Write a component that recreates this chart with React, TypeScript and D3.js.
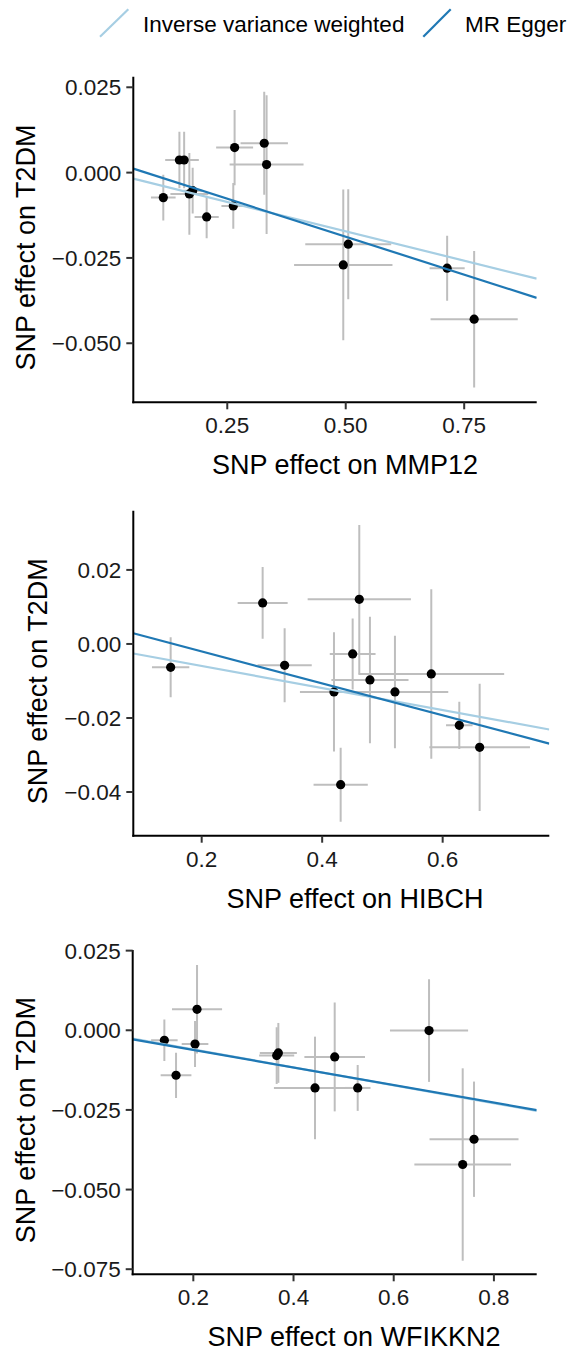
import React from "react";
import * as d3 from "d3";

// ---------- Data ----------
const legendLabels = ["Inverse variance weighted", "MR Egger"];
const legendColors = ["#a6cee3", "#1f78b4"];

// Panel 1: MMP12
const mmpX = [0.115, 0.149, 0.159, 0.170, 0.177, 0.2065, 0.2655, 0.2627, 0.328, 0.333, 0.5053, 0.4948, 0.714, 0.771];
const mmpY = [-0.00733, 0.0037, 0.0037, -0.00624, -0.0053, -0.013, 0.00733, -0.00976, 0.0086, 0.00234, -0.02098, -0.02704, -0.02801, -0.04295];
const mmpSeX = [0.026, 0.03, 0.031, 0.04, 0.02, 0.0255, 0.039, 0.025, 0.05, 0.078, 0.0907, 0.1038, 0.037, 0.092];
const mmpSeY = [0.0067, 0.0083, 0.0083, 0.012, 0.0067, 0.0062, 0.011, 0.0067, 0.0151, 0.0203, 0.0161, 0.0221, 0.0095, 0.02];
const mmpIVW = [0, -0.0344];
const mmpEgger = [0.00347, -0.0445];
const mmpXTicks = [0.25, 0.5, 0.75];
const mmpYTicks = [0.025, 0, -0.025, -0.05];

// Panel 2: HIBCH
const hibX = [0.1485, 0.3012, 0.3377, 0.4196, 0.4506, 0.4616, 0.4793, 0.5208, 0.5811, 0.6276, 0.6614, 0.4307];
const hibY = [-0.0063, 0.01108, -0.00577, -0.01297, -0.0027, 0.01207, -0.00973, -0.01297, -0.0081, -0.02198, -0.02793, -0.03802];
const hibSeX = [0.031, 0.0415, 0.045, 0.0565, 0.038, 0.0857, 0.064, 0.0885, 0.121, 0.022, 0.0835, 0.045];
const hibSeY = [0.0081, 0.0097, 0.01, 0.0161, 0.0096, 0.0201, 0.0171, 0.0152, 0.0229, 0.0064, 0.0172, 0.01];
const hibIVW = [0, -0.02975];
const hibEgger = [0.00663, -0.0432];
const hibXTicks = [0.2, 0.4, 0.6];
const hibYTicks = [0.02, 0, -0.02, -0.04];

// Panel 3: WFIKKN2
const wfiX = [0.1422, 0.1655, 0.2074, 0.2034, 0.3697, 0.3664, 0.4429, 0.4822, 0.6705, 0.5281, 0.7603, 0.7377];
const wfiY = [-0.00314, -0.01412, 0.00659, -0.0043, -0.0071, -0.00795, -0.0181, -0.00836, -0.0001, -0.0181, -0.0342, -0.04214];
const wfiSeX = [0.0265, 0.0307, 0.05, 0.0266, 0.037, 0.035, 0.082, 0.0605, 0.078, 0.0256, 0.0888, 0.0965];
const wfiSeY = [0.0065, 0.0071, 0.0139, 0.0072, 0.0094, 0.0089, 0.0161, 0.0171, 0.0161, 0.0072, 0.0181, 0.0302];
const wfiIVW = [-0.0004, -0.0281];
const wfiEgger = [-0.0007, -0.0275];
const wfiXTicks = [0.2, 0.4, 0.6, 0.8];
const wfiYTicks = [0.025, 0, -0.025, -0.05, -0.075];

const FONT = "'Liberation Sans', Arial, Helvetica, sans-serif";
const TICK_FS = 22.5;
const TITLE_FS = 27;
const LEGEND_FS = 22.5;

type PanelProps = {
  id: string;
  xs: number[];
  ys: number[];
  seX: number[];
  seY: number[];
  ivw: number[];
  egger: number[];
  xDomain: [number, number];
  yDomain: [number, number];
  xTicks: number[];
  yTicks: number[];
  xFmt: string;
  yFmt: string;
  left: number;
  right: number;
  top: number;
  bottom: number;
  xTitle: string;
  xTitleX: number;
  yTitleX: number;
};

function Panel(p: PanelProps) {
  const x = d3.scaleLinear().domain(p.xDomain).range([p.left, p.right]);
  const y = d3.scaleLinear().domain(p.yDomain).range([p.bottom, p.top]);
  const xf = d3.format(p.xFmt);
  const yf = d3.format(p.yFmt);
  const line = (coef: number[]) => {
    const pts: [number, number][] = p.xDomain.map((v) => [x(v), y(coef[0] + coef[1] * v)]);
    return d3.line()(pts) || "";
  };
  const grey = "#bebebe";
  return (
    <g>
      <defs>
        <clipPath id={p.id}>
          <rect x={p.left} y={p.top} width={p.right - p.left} height={p.bottom - p.top} />
        </clipPath>
      </defs>
      <g clipPath={`url(#${p.id})`}>
        {p.xs.map((v, i) => (
          <g key={i}>
            <line x1={x(v)} x2={x(v)} y1={y(p.ys[i] - p.seY[i])} y2={y(p.ys[i] + p.seY[i])} stroke={grey} strokeWidth={2} />
            <line x1={x(v - p.seX[i])} x2={x(v + p.seX[i])} y1={y(p.ys[i])} y2={y(p.ys[i])} stroke={grey} strokeWidth={2} />
          </g>
        ))}
        {p.xs.map((v, i) => (
          <circle key={i} cx={x(v)} cy={y(p.ys[i])} r={4.6} fill="#000" />
        ))}
        <path d={line(p.ivw)} stroke={legendColors[0]} strokeWidth={2.2} fill="none" />
        <path d={line(p.egger)} stroke={legendColors[1]} strokeWidth={2.2} fill="none" />
      </g>
      {/* axes */}
      <line x1={p.left} x2={p.left} y1={p.top} y2={p.bottom + 1} stroke="#000" strokeWidth={2} />
      <line x1={p.left - 1} x2={p.right} y1={p.bottom} y2={p.bottom} stroke="#000" strokeWidth={2} />
      {p.yTicks.map((t) => (
        <g key={"y" + t}>
          <line x1={p.left - 7} x2={p.left} y1={y(t)} y2={y(t)} stroke="#333" strokeWidth={2} />
          <text x={p.left - 12} y={y(t)} dy="0.36em" textAnchor="end" fontSize={TICK_FS} fontFamily={FONT} fill="#1a1a1a">
            {yf(t)}
          </text>
        </g>
      ))}
      {p.xTicks.map((t) => (
        <g key={"x" + t}>
          <line x1={x(t)} x2={x(t)} y1={p.bottom} y2={p.bottom + 7} stroke="#333" strokeWidth={2} />
          <text x={x(t)} y={p.bottom + 31} textAnchor="middle" fontSize={TICK_FS} fontFamily={FONT} fill="#1a1a1a">
            {xf(t)}
          </text>
        </g>
      ))}
      <text x={p.xTitleX} y={p.bottom + 72} textAnchor="middle" fontSize={TITLE_FS} fontFamily={FONT} fill="#000">
        {p.xTitle}
      </text>
      <text
        transform={`translate(${p.yTitleX},${(p.top + p.bottom) / 2 + 8}) rotate(-90)`}
        textAnchor="middle"
        fontSize={TITLE_FS}
        fontFamily={FONT}
        fill="#000"
      >
        SNP effect on T2DM
      </text>
    </g>
  );
}

export default function App() {
  return (
    <svg width={573} height={1353} style={{ position: "absolute", left: 0, top: 0, background: "#fff" }}>
      <rect width={573} height={1353} fill="#fff" />
      {/* legend */}
      <line x1={100} y1={36.7} x2={128.3} y2={9.3} stroke={legendColors[0]} strokeWidth={2.2} />
      <text x={143} y={31.5} fontSize={LEGEND_FS} fontFamily={FONT} fill="#000">{legendLabels[0]}</text>
      <line x1={423.3} y1={36.7} x2={450.7} y2={9.3} stroke={legendColors[1]} strokeWidth={2.2} />
      <text x={465} y={31.5} fontSize={LEGEND_FS} fontFamily={FONT} fill="#000">{legendLabels[1]}</text>

      <Panel
        id="c1" xs={mmpX} ys={mmpY} seX={mmpSeX} seY={mmpSeY} ivw={mmpIVW} egger={mmpEgger}
        xDomain={[0.0517, 0.903]} yDomain={[-0.0673, 0.0281]}
        xTicks={mmpXTicks} yTicks={mmpYTicks} xFmt=".2f" yFmt=".3f"
        left={133.3} right={536.7} top={76.7} bottom={402.3}
        xTitle="SNP effect on MMP12" xTitleX={345} yTitleX={35}
      />
      <Panel
        id="c2" xs={hibX} ys={hibY} seX={hibSeX} seY={hibSeY} ivw={hibIVW} egger={hibEgger}
        xDomain={[0.0865, 0.777]} yDomain={[-0.0518, 0.036]}
        xTicks={hibXTicks} yTicks={hibYTicks} xFmt=".1f" yFmt=".2f"
        left={133.3} right={549.3} top={510.7} bottom={835.7}
        xTitle="SNP effect on HIBCH" xTitleX={355} yTitleX={47}
      />
      <Panel
        id="c3" xs={wfiX} ys={wfiY} seX={wfiSeX} seY={wfiSeY} ivw={wfiIVW} egger={wfiEgger}
        xDomain={[0.079, 0.8854]} yDomain={[-0.0766, 0.0252]}
        xTicks={wfiXTicks} yTicks={wfiYTicks} xFmt=".1f" yFmt=".3f"
        left={132.7} right={536.7} top={950} bottom={1274.3}
        xTitle="SNP effect on WFIKKN2" xTitleX={354} yTitleX={35}
      />
    </svg>
  );
}
